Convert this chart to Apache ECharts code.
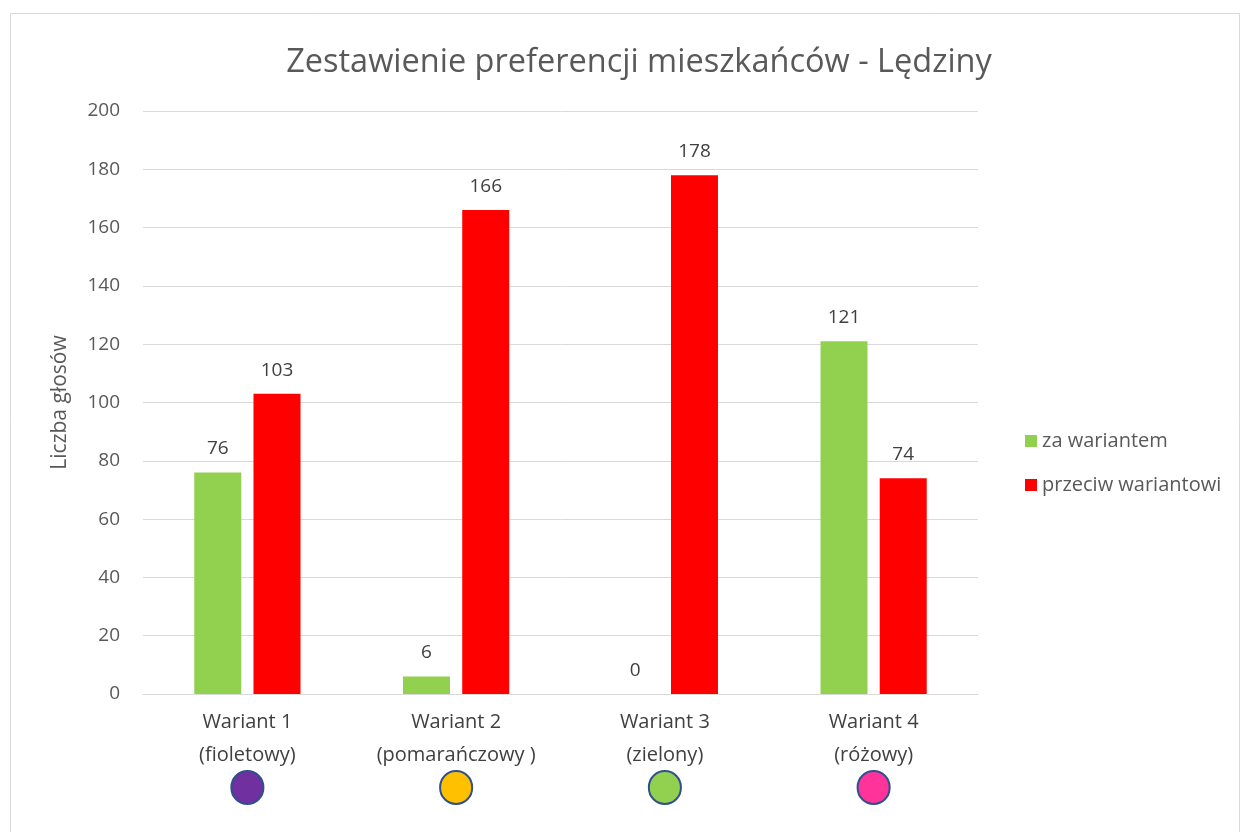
<!DOCTYPE html>
<html>
<head>
<meta charset="utf-8">
<script src="https://cdn.jsdelivr.net/npm/echarts@6/dist/echarts.min.js"></script>
<style>
html,body{margin:0;padding:0;background:#fff;}
#main{width:1246px;height:832px;}
</style>
</head>
<body>
<div id="main"></div>
<script>
let categories = ['Wariant 1', 'Wariant 2', 'Wariant 3', 'Wariant 4'];
let colourNames = ['(fioletowy)', '(pomarańczowy )', '(zielony)', '(różowy)'];
let forVotes = [76, 6, 0, 121];
let againstVotes = [103, 166, 178, 74];
let yTicks = [0, 20, 40, 60, 80, 100, 120, 140, 160, 180, 200];

let myChart = echarts.init(document.getElementById('main'));

let dotColours = ['#7030A0', '#FFC000', '#92D050', '#FF3399'];
let rich = {
    t: {fontSize: 20, color: '#404040', lineHeight: 33, fontFamily: 'Open Sans'}
};
dotColours.forEach(function (c, i) {
    rich['d' + i] = {
        width: 30, height: 31, borderRadius: 16,
        backgroundColor: c, borderColor: '#2F4F8F', borderWidth: 2
    };
});

// etykiety nad słupkami
let labelStyle = {
    show: true, position: 'top', distance: 14,
    fontSize: 19, color: '#404040', fontFamily: 'Open Sans'
};

let option = {
    backgroundColor: '#fff',
    textStyle: {fontFamily: 'Open Sans'},
    title: {
        text: 'Zestawienie preferencji mieszkańców - Lędziny',
        left: 634, top: 41, textAlign: 'center',
        textStyle: {fontSize: 32.5, fontWeight: 'normal', color: '#595959', fontFamily: 'Open Sans'}
    },
    legend: {
        orient: 'vertical',
        left: 1020, top: 426,
        itemWidth: 12, itemHeight: 12, itemGap: 24,
        icon: 'rect',
        textStyle: {fontSize: 20, color: '#595959', fontFamily: 'Open Sans'},
        data: ['za wariantem', 'przeciw wariantowi']
    },
    graphic: [{
        type: 'rect',
        shape: {x: 10.5, y: 13.5, width: 1229, height: 830},
        style: {fill: 'none', stroke: '#d9d9d9', lineWidth: 1},
        silent: true
    }],
    grid: {left: 143, right: 268, top: 111, bottom: 138},
    xAxis: {
        type: 'category',
        data: categories,
        axisLine: {lineStyle: {color: '#d9d9d9'}},
        axisTick: {show: false},
        axisLabel: {
            margin: 12,
            formatter: function (v, i) {
                return '{t|' + v + '}\n{t|' + colourNames[i] + '}\n{d' + i + '|}';
            },
            rich: rich
        }
    },
    yAxis: {
        type: 'value',
        min: yTicks[0], max: yTicks[yTicks.length - 1], interval: 20,
        name: 'Liczba głosów',
        nameLocation: 'middle',
        nameGap: 72,
        nameTextStyle: {fontSize: 21, color: '#595959', fontFamily: 'Open Sans'},
        axisLine: {show: false},
        axisTick: {show: false},
        axisLabel: {fontSize: 19, color: '#595959', margin: 23},
        splitLine: {lineStyle: {color: '#d9d9d9', width: 1}}
    },
    series: [{
        name: 'za wariantem',
        type: 'bar',
        data: forVotes,
        barWidth: 47,
        barGap: '26%',
        itemStyle: {color: '#92D050'},
        label: labelStyle
    }, {
        name: 'przeciw wariantowi',
        type: 'bar',
        data: againstVotes,
        barWidth: 47,
        itemStyle: {color: '#FF0000'},
        label: labelStyle
    }]
};

myChart.setOption(option);
</script>
</body>
</html>
